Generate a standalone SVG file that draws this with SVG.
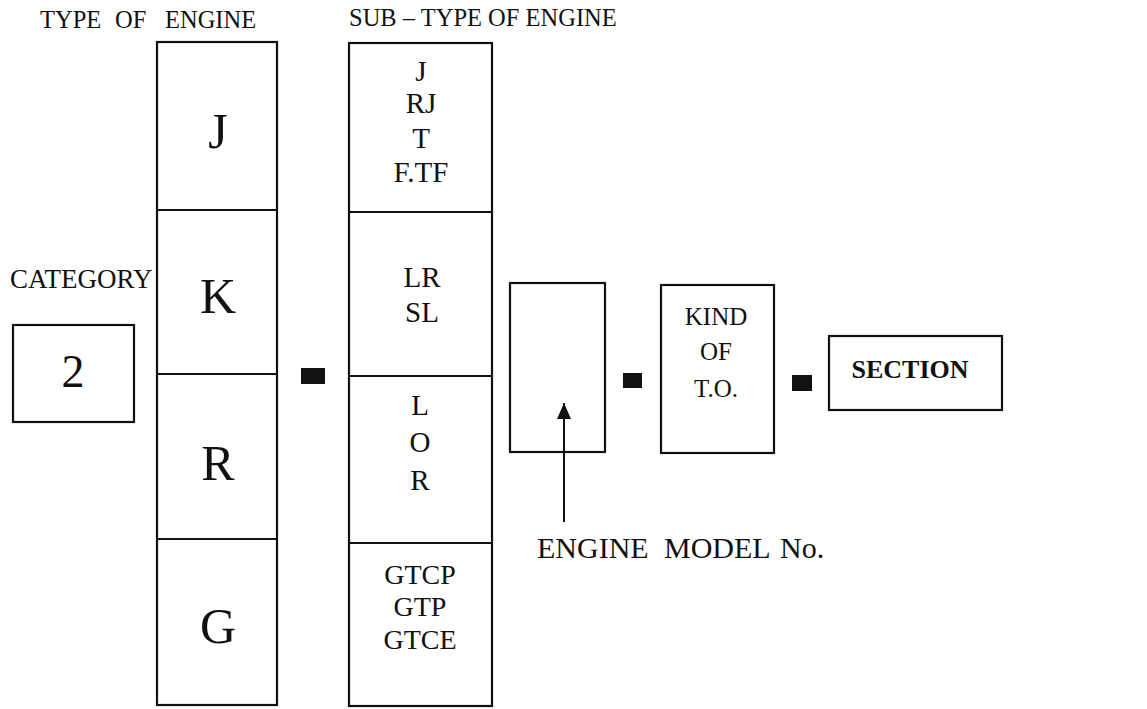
<svg xmlns="http://www.w3.org/2000/svg" width="1147" height="709" viewBox="0 0 1147 709">
<style>
.box{fill:none;stroke:#111;stroke-width:2.2}
.t{font-family:'Liberation Serif','Times New Roman',Times,'DejaVu Serif',serif;fill:#111;text-anchor:middle}
.l{font-family:'Liberation Serif','Times New Roman',Times,'DejaVu Serif',serif;fill:#111}
.dash{fill:#111}
</style>
<defs>
<marker id="ah" markerWidth="18" markerHeight="14" refX="16" refY="7" orient="auto" markerUnits="userSpaceOnUse" viewBox="0 0 18 14">
<path d="M0 0 L16 7 L0 14 Z" fill="#111"/>
</marker>
</defs>
<rect width="1147" height="709" fill="#fff"/>

<g id="headers">
<text class="l" y="28" font-size="24.5"><tspan x="40">TYPE</tspan><tspan x="115">OF</tspan><tspan x="165">ENGINE</tspan></text>
<text class="l" x="349" y="26" font-size="24.5">SUB – TYPE OF ENGINE</text>
</g>

<g id="category">
<text class="l" x="10" y="288" font-size="27">CATEGORY</text>
<rect class="box" x="13" y="325" width="121" height="97"/>
<text class="t" x="73" y="387" font-size="46">2</text>
</g>

<g id="type-of-engine">
<rect class="box" x="157" y="42" width="120" height="663"/>
<line class="box" x1="157" y1="210" x2="277" y2="210"/>
<line class="box" x1="157" y1="374" x2="277" y2="374"/>
<line class="box" x1="157" y1="539" x2="277" y2="539"/>
<text class="t" x="218" y="148" font-size="50">J</text>
<text class="t" x="218" y="313" font-size="50">K</text>
<text class="t" x="218" y="480" font-size="50">R</text>
<text class="t" x="218" y="643" font-size="50">G</text>
</g>

<g id="sub-type">
<rect class="box" x="349" y="43" width="143" height="663"/>
<line class="box" x1="349" y1="212" x2="492" y2="212"/>
<line class="box" x1="349" y1="376" x2="492" y2="376"/>
<line class="box" x1="349" y1="543" x2="492" y2="543"/>
<text class="t" x="421" y="81" font-size="29">J</text>
<text class="t" x="421" y="113" font-size="29">RJ</text>
<text class="t" x="421" y="148" font-size="29">T</text>
<text class="t" x="421" y="182" font-size="29">F.TF</text>
<text class="t" x="422" y="287" font-size="29">LR</text>
<text class="t" x="422" y="322" font-size="29">SL</text>
<text class="t" x="420" y="415" font-size="29">L</text>
<text class="t" x="420" y="452" font-size="29">O</text>
<text class="t" x="420" y="490" font-size="29">R</text>
<text class="t" x="420" y="584" font-size="28">GTCP</text>
<text class="t" x="420" y="616" font-size="28">GTP</text>
<text class="t" x="420" y="649" font-size="28">GTCE</text>
</g>

<g id="separators">
<rect class="dash" x="301" y="368" width="24" height="16"/>
<rect class="dash" x="623" y="373" width="19" height="15"/>
<rect class="dash" x="792" y="375" width="20" height="16"/>
</g>

<g id="engine-model">
<rect class="box" x="510" y="283" width="95" height="169"/>
<text class="l" y="558" font-size="30"><tspan x="537">ENGINE</tspan><tspan x="664">MODEL</tspan><tspan x="780">No.</tspan></text>
</g>

<g id="kind-of-to">
<rect class="box" x="661" y="285" width="113" height="168"/>
<text class="t" x="716" y="325" font-size="25">KIND</text>
<text class="t" x="716" y="360" font-size="25">OF</text>
<text class="t" x="716" y="397" font-size="25">T.O.</text>
</g>

<g id="section">
<rect class="box" x="829" y="336" width="173" height="74"/>
<text class="t" x="910" y="378" font-size="26" font-weight="bold">SECTION</text>
</g>

<g id="connectors">
<line x1="564" y1="522" x2="564" y2="403" stroke="#111" stroke-width="2" marker-end="url(#ah)"/>
</g>
</svg>
